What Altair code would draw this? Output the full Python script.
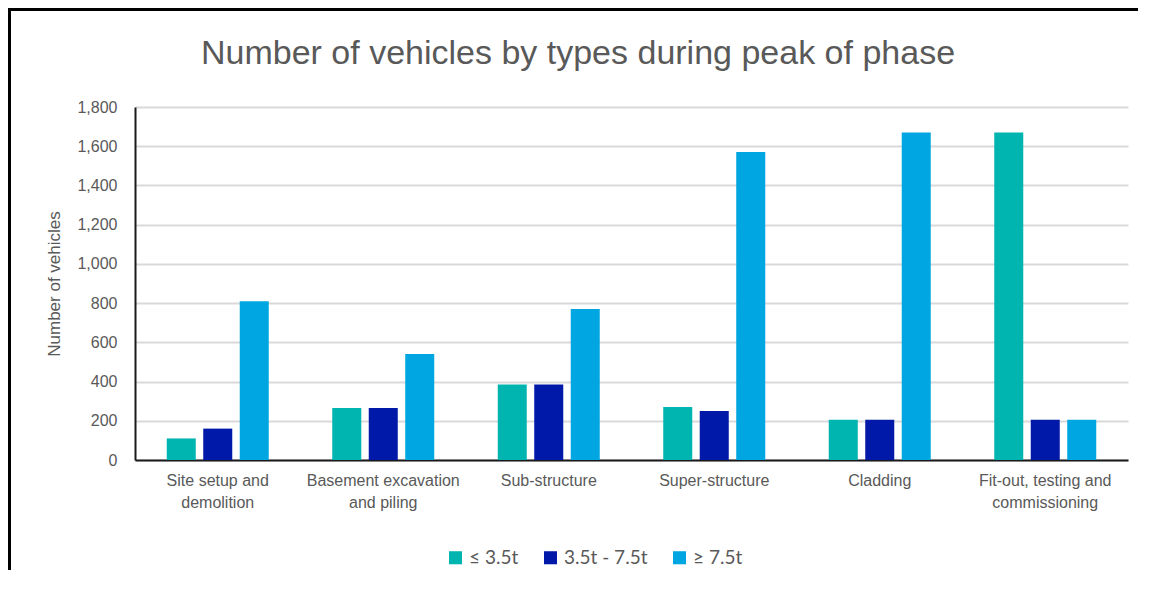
import altair as alt
import pandas as pd

categories = ["Site setup and demolition", "Basement excavation and piling", "Sub-structure",
              "Super-structure", "Cladding", "Fit-out, testing and commissioning"]
label_lines = {
    "Site setup and demolition": ["Site setup and", "demolition"],
    "Basement excavation and piling": ["Basement  excavation", "and piling"],
    "Sub-structure": ["Sub-structure"],
    "Super-structure": ["Super-structure"],
    "Cladding": ["Cladding"],
    "Fit-out, testing and commissioning": ["Fit-out, testing and", "commissioning"],
}
series = ["≤ 3.5t", "3.5t - 7.5t", "≥ 7.5t"]
light = [110, 265, 385, 270, 205, 1670]
medium = [160, 265, 385, 250, 205, 205]
heavy = [810, 540, 770, 1570, 1670, 205]
colors = ["#00B4B0", "#0019A8", "#00A6E1"]
title_text = "Number of vehicles by types during peak of phase"

rows = []
for i, c in enumerate(categories):
    for s, vals in zip(series, [light, medium, heavy]):
        rows.append({"phase": c, "type": s, "value": vals[i]})
df = pd.DataFrame(rows)

expr = ""
for c, lines in label_lines.items():
    arr = "[" + ",".join("'" + l + "'" for l in lines) + "]"
    expr += f"datum.label == '{c}' ? {arr} : "
expr += "datum.label"

FONT = "Liberation Sans"
GREY = "#595959"
W, H = 993, 353

bars = alt.Chart(df).mark_bar().encode(
    x=alt.X("phase:N", sort=categories,
            scale=alt.Scale(paddingInner=0, paddingOuter=0),
            axis=alt.Axis(title=None, labelAngle=0, labelExpr=expr, labelFont=FONT,
                          labelFontSize=16, labelColor=GREY, ticks=False,
                          domainColor="#1a1a1a", domainWidth=2, labelPadding=12,
                          labelLineHeight=22, grid=False)),
    xOffset=alt.XOffset("type:N", sort=series,
                        scale=alt.Scale(paddingInner=0.205, paddingOuter=0.87)),
    y=alt.Y("value:Q", scale=alt.Scale(domain=[0, 1800]),
            axis=alt.Axis(title="Number of vehicles", values=list(range(0, 1801, 200)),
                          format=",.0f", labelFont=FONT, labelFontSize=16, labelColor=GREY,
                          titleFont=FONT, titleFontSize=17, titleColor=GREY,
                          titleFontWeight="normal", titlePadding=13, ticks=False,
                          labelPadding=18, domainColor="#1a1a1a", domainWidth=2,
                          gridColor="#d9d9d9", gridWidth=2)),
    color=alt.Color("type:N", sort=series,
                    scale=alt.Scale(domain=series, range=colors),
                    legend=alt.Legend(title=None, orient="none", direction="horizontal",
                                      legendX=311, legendY=441, symbolType="square",
                                      symbolSize=170, symbolStrokeWidth=0,
                                      labelFont="Lato", labelFontSize=19, labelColor=GREY,
                                      columnPadding=22, labelOffset=4)),
)

one = pd.DataFrame({"k": [0]})
top_line = alt.Chart(one).mark_rect(color="black").encode(
    x=alt.value(-127), x2=alt.value(1003), y=alt.value(-99), y2=alt.value(-96))
left_line = alt.Chart(one).mark_rect(color="black").encode(
    x=alt.value(-127), x2=alt.value(-124), y=alt.value(-99), y2=alt.value(470))
title = alt.Chart(one).mark_text(
    font=FONT, fontSize=34, color=GREY, align="center", baseline="alphabetic"
).encode(x=alt.value(443), y=alt.value(-43), text=alt.value(title_text))

chart = alt.layer(bars, top_line, left_line, title).properties(
    width=W, height=H,
    autosize=alt.AutoSizeParams(type="none"),
    padding={"left": 127, "top": 99, "right": 10, "bottom": 110},
).configure_view(stroke=None)

chart.save("out.html", embed_options={"renderer": "svg", "actions": False})
